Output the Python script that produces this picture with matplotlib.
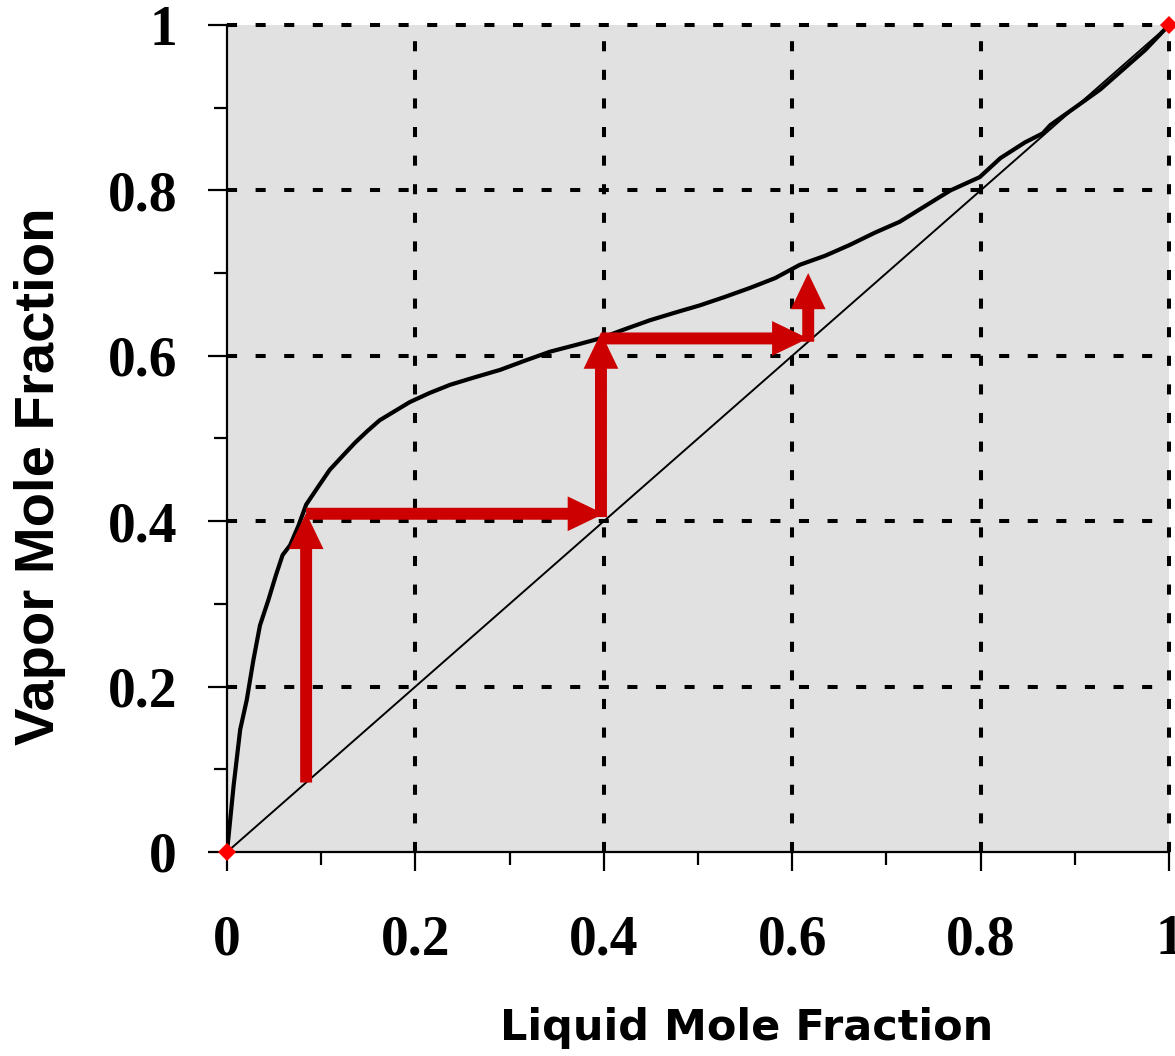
import matplotlib
matplotlib.use("Agg")
import matplotlib.pyplot as plt
from matplotlib.ticker import MultipleLocator, FixedLocator

# ---- data ----
liquid_x = [0.0, 0.007, 0.014, 0.021, 0.028, 0.035, 0.044, 0.052, 0.059, 0.067, 0.076, 0.084,
            0.097, 0.109, 0.122, 0.136, 0.149, 0.162, 0.178, 0.194, 0.215, 0.237, 0.263,
            0.29, 0.316, 0.343, 0.37, 0.396, 0.422, 0.449, 0.475, 0.502, 0.528, 0.555,
            0.582, 0.608, 0.635, 0.661, 0.688, 0.714, 0.741, 0.768, 0.799, 0.821, 0.847,
            0.866, 0.874, 0.90, 0.927, 0.95, 0.975, 1.0]
vapor_y = [0.0, 0.08, 0.148, 0.184, 0.232, 0.274, 0.305, 0.335, 0.359, 0.371, 0.395, 0.42,
           0.442, 0.462, 0.478, 0.495, 0.509, 0.522, 0.533, 0.544, 0.555, 0.565, 0.574,
           0.583, 0.594, 0.605, 0.613, 0.621, 0.632, 0.643, 0.652, 0.661, 0.671, 0.682,
           0.694, 0.710, 0.721, 0.734, 0.749, 0.762, 0.781, 0.800, 0.816, 0.839, 0.858,
           0.869, 0.879, 0.900, 0.922, 0.945, 0.970, 1.0]

diag_x = [0.0, 1.0]
diag_y = [0.0, 1.0]

# stepping construction (McCabe-Thiele): arrow start and end points
arrow_start_x = [0.084, 0.084, 0.397, 0.397, 0.617]
arrow_start_y = [0.084, 0.409, 0.405, 0.621, 0.617]
arrow_end_x = [0.084, 0.400, 0.397, 0.617, 0.617]
arrow_end_y = [0.410, 0.409, 0.628, 0.621, 0.700]

pure_x = [0.0, 1.0]
pure_y = [0.0, 1.0]

major_ticks = [0.0, 0.2, 0.4, 0.6, 0.8, 1.0]
tick_labels = ["0", "0.2", "0.4", "0.6", "0.8", "1"]

# ---- figure ----
W, H, DPI = 1175, 1056, 100
fig = plt.figure(figsize=(W / DPI, H / DPI), dpi=DPI)
ax = fig.add_axes([227 / W, (H - 852) / H, 942 / W, 827 / H])
ax.set_facecolor("#e1e1e1")
ax.set_xlim(0, 1)
ax.set_ylim(0, 1)

# grid (dashed), including lines along top/right edges
gridstyle = dict(color="black", lw=2.9, linestyle=(0, (2.5, 4.6)), zorder=1, clip_on=False)
for t in major_ticks[1:]:
    ax.axhline(t, **gridstyle)
    ax.axvline(t, **gridstyle)

# diagonal and equilibrium curve
ax.plot(diag_x, diag_y, color="black", lw=1.4, zorder=3)
ax.plot(liquid_x, vapor_y, color="black", lw=3.0, zorder=4, solid_joinstyle="round")

# arrows
red = "#cc0000"
for x0, y0, x1, y1 in zip(arrow_start_x, arrow_start_y, arrow_end_x, arrow_end_y):
    ax.annotate("", xy=(x1, y1), xytext=(x0, y0),
                arrowprops=dict(arrowstyle="simple,head_length=26,head_width=25,tail_width=8.6",
                                fc=red, ec="none", shrinkA=0, shrinkB=0, mutation_scale=1),
                zorder=5)

# end markers
ax.plot(pure_x, pure_y, linestyle="none", marker="D", ms=9.5, color="#ff0000",
        markeredgewidth=0, zorder=6, clip_on=False)

# spines
for s in ["top", "right"]:
    ax.spines[s].set_visible(False)
for s in ["left", "bottom"]:
    ax.spines[s].set_linewidth(1.6)
    ax.spines[s].set_color("black")

ax.xaxis.set_major_locator(FixedLocator(major_ticks))
ax.yaxis.set_major_locator(FixedLocator(major_ticks))
ax.xaxis.set_minor_locator(MultipleLocator(0.1))
ax.yaxis.set_minor_locator(MultipleLocator(0.1))
ax.set_xticklabels(tick_labels)
ax.set_yticklabels(tick_labels)
ax.tick_params(which="major", direction="out", length=14, width=1.6, color="black")
ax.tick_params(which="minor", direction="out", length=9.5, width=1.6, color="black")
ax.tick_params(axis="y", which="major", pad=22)
ax.tick_params(axis="x", which="major", pad=31)
for lab in ax.get_xticklabels() + ax.get_yticklabels():
    lab.set_fontfamily("Liberation Serif")
    lab.set_fontweight("bold")
    lab.set_fontsize(40)

fig.text(747 / W, 1 - 1028 / H, "Liquid Mole Fraction", ha="center", va="center",
         family="DejaVu Sans", weight="bold", fontsize=31)
fig.text(40 / W, 1 - 476 / H, "Vapor Mole Fraction", ha="center", va="center",
         rotation=90, family="Liberation Sans", weight="bold", fontsize=40.5)

fig.savefig("out.png", dpi=DPI)
